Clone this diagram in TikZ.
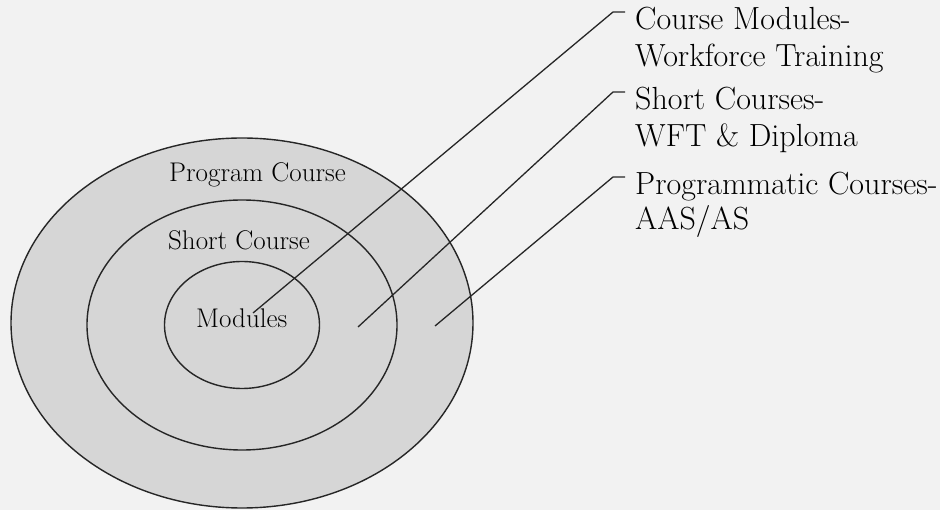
\documentclass[tikz,border=0pt]{standalone}
\usepackage{fontspec}
\usepackage{tikz}
\definecolor{bgcol}{HTML}{F2F2F2}
\definecolor{ringfill}{HTML}{D6D6D6}
\begin{document}
\begin{tikzpicture}[x=1pt,y=-1pt,
  ring/.style={draw=black!85,line width=1.4pt,fill=ringfill},
  leader/.style={draw=black!85,line width=1.3pt},
  llab/.style={inner sep=0pt,anchor=base west,font=\fontsize{27}{31}\selectfont},
  rlab/.style={inner sep=0pt,anchor=base west,font=\fontsize{32}{37}\selectfont}]
\fill[bgcol] (0,0) rectangle (940,510);
\useasboundingbox (0,0) rectangle (940,510);
% rings
\draw[ring] (242,323) ellipse [x radius=231, y radius=185];
\draw[ring] (242,325) ellipse [x radius=155, y radius=125];
\draw[ring] (242,325) ellipse [x radius=77.5, y radius=63.5];
% ring labels
\node[llab] (prog) at (169,182) {Program Course};
\node[llab] (short) at (168,250) {Short Course};
\node[llab] (mod) at (196,328) {Modules};
% right labels
\node[rlab] (cm1) at (635,30) {Course Modules-};
\node[rlab] (cm2) at (635,67) {Workforce Training};
\node[rlab] (sc1) at (635,110) {Short Courses-};
\node[rlab] (sc2) at (635,147) {WFT \& Diploma};
\node[rlab] (pc1) at (635,195) {Programmatic Courses-};
\node[rlab] (pc2) at (635,230) {AAS/AS};
% leader points
\coordinate (e1) at (253,313);
\coordinate (e2) at (358,327);
\coordinate (e3) at (435,326);
\coordinate (k1) at (613,12);
\coordinate (k2) at (613,92);
\coordinate (k3) at (613,177);
\coordinate (h1) at (625,12);
\coordinate (h2) at (625,92);
\coordinate (h3) at (625,177);
\draw[leader] (e1) -- (k1) -- (h1);
\draw[leader] (e2) -- (k2) -- (h2);
\draw[leader] (e3) -- (k3) -- (h3);
\end{tikzpicture}
\end{document}
